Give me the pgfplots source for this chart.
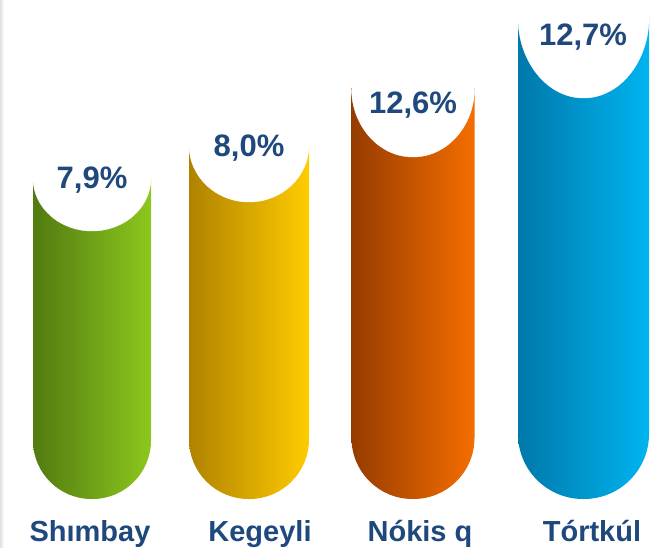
\documentclass[border=0pt]{standalone}
\usepackage{pgfplots}
\pgfplotsset{compat=1.18}
\usepackage{pgfplotstable}
\usepackage{fontspec}
\setmainfont{Liberation Sans}

\definecolor{labelNavy}{HTML}{1F487C}
\definecolor{greenL}{HTML}{527A10}
\definecolor{greenR}{HTML}{8CC81E}
\definecolor{goldL}{HTML}{B08200}
\definecolor{goldR}{HTML}{FFCC00}
\definecolor{orangeL}{HTML}{963C00}
\definecolor{orangeR}{HTML}{F56E00}
\definecolor{blueL}{HTML}{0078AA}
\definecolor{blueR}{HTML}{00B4F0}

% value labels: x, y of the label centre, value in %
\pgfplotstableread{
x   ylab  value
92  319   7.9
249 351   8.0
413 394   12.6
583 462   12.7
}\valdata

\pgfplotsset{
  tube/.style={ybar, bar shift=0pt, draw=none, bar width=#1, rounded corners=0.5*#1pt-0.5pt},
  cap/.style 2 args={only marks, color=white, mark=*, mark size=#1,
    mark options={draw=none, fill=white, yscale=#2/#1}},
}

\begin{document}
\begin{tikzpicture}
  \begin{axis}[
    scale only axis,
    width=664pt, height=547pt,
    xmin=0, xmax=664,
    ymin=-48, ymax=499,
    hide axis,
  ]
    % faint shadow on the left edge
    \addplot[draw=none, left color=black!12, right color=white]
      coordinates {(0,-48) (4,-48) (4,499) (0,499)} -- cycle;

    % tubes (drawn taller than the visible top, cut by white covers)
    \addplot[tube=118, left color=greenL, right color=greenR]
      coordinates {(92,381)};
    \addplot[tube=120, left color=goldL, right color=goldR]
      coordinates {(249,414)};
    \addplot[tube=123, left color=orangeL, right color=orangeR]
      coordinates {(413,473)};
    \addplot[tube=131, left color=blueL, right color=blueR]
      coordinates {(583.5,560)};

    % white covers above each tube top
    \addplot[fill=white, draw=none] coordinates {(31,321) (153,321) (153,520) (31,520)} -- cycle;
    \addplot[fill=white, draw=none] coordinates {(187,354) (311,354) (311,520) (187,520)} -- cycle;
    \addplot[fill=white, draw=none] coordinates {(350,411) (476,411) (476,520) (350,520)} -- cycle;
    \addplot[fill=white, draw=none] coordinates {(516,482) (651,482) (651,520) (516,520)} -- cycle;

    % white elliptic caps
    \addplot[cap={59}{53}] coordinates {(92,321)};
    \addplot[cap={60}{57}] coordinates {(249,354)};
    \addplot[cap={61.5}{69}] coordinates {(413,411)};
    \addplot[cap={65.5}{81}] coordinates {(583.5,482)};

    % value labels
    \addplot[only marks, mark=none, point meta=explicit,
      nodes near coords={\pgfmathprintnumber[fixed, fixed zerofill, precision=1,
        use comma, assume math mode=true]{\pgfplotspointmeta}\%},
      every node near coord/.append style={anchor=center, text=labelNavy,
        font=\fontsize{31}{36}\selectfont\bfseries, inner sep=0pt}]
      table[x=x, y=ylab, meta=value] {\valdata};

    % category names
    \addplot[only marks, mark=none, point meta=explicit symbolic,
      nodes near coords,
      every node near coord/.append style={anchor=base, text=labelNavy,
        font=\fontsize{29}{34}\selectfont\bfseries, inner sep=0pt}]
      coordinates {(90,-42) [Shımbay] (260,-42) [Kegeyli] (420,-42) [Nókis q] (592,-42) [Tórtkúl]};
  \end{axis}
  \pgfresetboundingbox
  \path (0,0) rectangle (664pt,547pt);
\end{tikzpicture}
\end{document}
